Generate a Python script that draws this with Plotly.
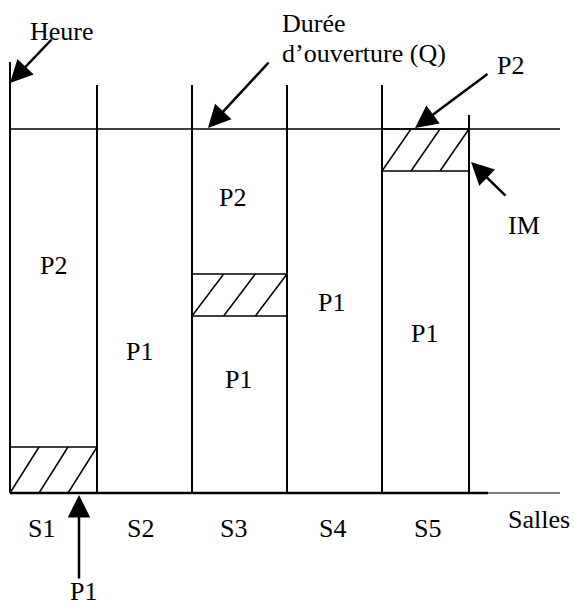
import plotly.graph_objects as go

# ---- data (diagram units: x = horizontal position, y = height above the baseline) ----
room_names = ["S1", "S2", "S3", "S4", "S5"]
room_edges = [10, 97, 192, 287, 382, 469]
edge_tops = [431, 408, 408, 408, 408, 378]
room_label_x = [41.5, 140, 233, 332, 427]
opening_duration = 364  # Q

# occupied segments
segments_room = [0, 1, 2, 2, 3, 4]
segments_bottom = [46, 0, 0, 219, 0, 0]
segments_top = [364, 364, 177, 364, 364, 322]
segments_label = ["P2", "P1", "P1", "P2", "P1", "P1"]
segments_label_x = [53, 139.5, 238.5, 232, 331, 424.5]
segments_label_y = [228, 142, 114, 296, 191, 160]

# idle (hatched) blocks
idle_room = [0, 2, 4]
idle_bottom = [0, 177, 322]
idle_top = [46, 219, 364]

FONT = "Liberation Serif, Times New Roman, serif"
FS = 26

fig = go.Figure()

xs, ys = [], []
for xe, top in zip(room_edges, edge_tops):
    xs += [xe, xe, None]
    ys += [0, top, None]
fig.add_trace(go.Scatter(x=xs, y=ys, mode="lines", line=dict(color="black", width=2),
                         hoverinfo="skip", showlegend=False))

fig.add_trace(go.Scatter(x=[room_edges[0], 560], y=[opening_duration, opening_duration], mode="lines",
                         line=dict(color="black", width=1.5), hoverinfo="skip", showlegend=False))
fig.add_trace(go.Scatter(x=[room_edges[0], 488], y=[0, 0], mode="lines",
                         line=dict(color="black", width=2.5), hoverinfo="skip", showlegend=False))
fig.add_trace(go.Scatter(x=[488, 560], y=[0, 0], mode="lines",
                         line=dict(color="black", width=1.2), hoverinfo="skip", showlegend=False))

hx, hy = [], []
for r, b, t in zip(idle_room, idle_bottom, idle_top):
    x0, x1 = room_edges[r], room_edges[r + 1]
    hx += [x0, x1, None, x0, x1, None]
    hy += [b, b, None, t, t, None]
    w = (x1 - x0) / 3
    for i in range(3):
        hx += [x0 + i * w, x0 + (i + 1) * w, None]
        hy += [b, t, None]
fig.add_trace(go.Scatter(x=hx, y=hy, mode="lines", line=dict(color="black", width=1.5),
                         hoverinfo="skip", showlegend=False))

tf = dict(family=FONT, size=FS, color="black")
annotations = []
for lab, lx, ly in zip(segments_label, segments_label_x, segments_label_y):
    annotations.append(dict(x=lx, y=ly, text=lab, showarrow=False, font=tf))
for name, lx in zip(room_names, room_label_x):
    annotations.append(dict(x=lx, y=-35, text=name, showarrow=False, font=tf))
annotations.append(dict(x=539, y=-26, text="Salles", showarrow=False, font=tf))
annotations.append(dict(x=61.5, y=461.5, text="Heure", showarrow=False, font=tf))
annotations.append(dict(x=280, y=469.5, text="Durée", showarrow=False, xanchor="left", font=tf))
annotations.append(dict(x=280, y=439.5, text="d’ouverture (Q)", showarrow=False, xanchor="left", font=tf))
annotations.append(dict(x=510, y=428, text="P2", showarrow=False, font=tf))
annotations.append(dict(x=524, y=268, text="IM", showarrow=False, font=tf))
annotations.append(dict(x=83.5, y=-98, text="P1", showarrow=False, font=tf))

# arrows: (tip x, tip y, tail x, tail y)
arrows = [
    (10, 410, 53, 455),
    (208, 365, 270, 432),
    (415, 365, 489, 420),
    (471, 331, 507, 296),
    (79, -2, 79, -87),
]
for tx, ty, axx, ayy in arrows:
    annotations.append(dict(x=tx, y=ty, ax=axx, ay=ayy, xref="x", yref="y", axref="x", ayref="y",
                            text="", showarrow=True, arrowhead=2, arrowsize=1.8, arrowwidth=2.5,
                            arrowcolor="black", standoff=0))

fig.update_layout(
    width=574, height=606,
    margin=dict(l=0, r=0, t=0, b=0),
    paper_bgcolor="white", plot_bgcolor="white",
    xaxis=dict(range=[0, 574], visible=False, fixedrange=True),
    yaxis=dict(range=[-113, 493], visible=False, fixedrange=True),
    font=tf,
    annotations=annotations,
    showlegend=False,
)
fig.write_html("out.html", config={"displayModeBar": False, "staticPlot": True},
               post_script="document.body.style.margin='0';document.body.style.overflow='hidden';")
